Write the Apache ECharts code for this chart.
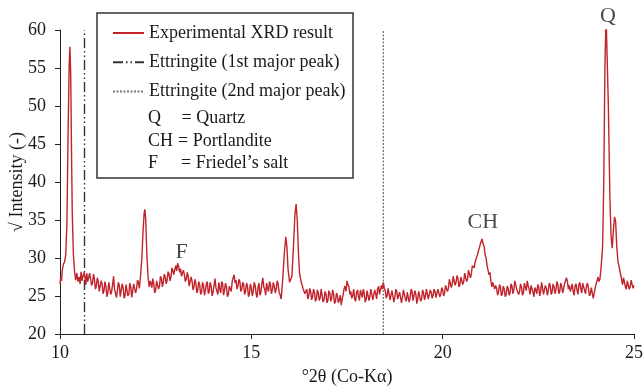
<!DOCTYPE html>
<html><head><meta charset="utf-8">
<script src="https://cdn.jsdelivr.net/npm/echarts@6/dist/echarts.min.js"></script>
<style>html,body{margin:0;padding:0;background:#fff}#c{width:643px;height:388px}</style>
</head><body><div id="c"></div>
<script>
// ---- data ----
const xTicks = [10, 15, 20, 25];
const yTicks = [20, 25, 30, 35, 40, 45, 50, 55, 60];
const ettringite1stPeak = 10.64;
const ettringite2ndPeak = 18.45;
const xrdPattern = [
[10.00,26.6],[10.02,27.5],[10.04,27.0],[10.06,28.4],[10.09,29.2],[10.12,29.5],[10.15,30.4],[10.18,34.5],[10.21,46.0],[10.24,55.5],[10.26,57.8],[10.28,54.0],[10.30,44.5],[10.32,36.0],[10.35,30.5],[10.38,28.3],[10.41,27.1],[10.44,28.0],[10.47,26.9],
[10.500,27.5],[10.525,26.6],[10.550,28.2],[10.575,27.0],[10.600,26.8],[10.625,28.1],[10.650,27.6],[10.675,26.5],[10.700,28.0],[10.725,26.9],[10.750,27.1],[10.775,28.0],[10.800,27.8],[10.825,26.4],[10.850,26.7],[10.875,27.9],[10.900,27.2],[10.925,25.9],[10.950,26.3],[10.975,27.4],
[11.000,26.9],[11.025,25.6],[11.050,25.8],[11.075,27.0],[11.100,26.6],[11.125,25.3],[11.150,25.7],[11.175,26.9],[11.200,26.3],[11.225,24.9],[11.250,25.4],[11.275,26.8],[11.300,26.7],[11.325,25.2],[11.350,25.6],[11.375,26.5],[11.400,27.6],[11.425,25.9],[11.450,26.0],[11.475,24.8],
[11.500,25.7],[11.525,26.8],[11.550,26.4],[11.575,24.9],[11.600,25.1],[11.625,26.6],[11.650,26.1],[11.675,24.7],[11.700,25.0],[11.725,26.5],[11.750,26.3],[11.775,25.0],[11.800,25.3],[11.825,26.7],[11.850,26.2],[11.875,24.8],[11.900,25.0],[11.925,26.6],[11.950,26.4],[11.975,25.4],
[12.000,25.9],[12.025,27.1],[12.050,26.8],[12.075,26.0],[12.100,27.4],
[12.14,30.0],[12.17,33.5],[12.20,36.0],[12.22,36.4],[12.24,35.0],[12.27,30.5],[12.30,27.6],[12.33,26.2],[12.36,27.0],
[12.400,26.1],[12.425,27.3],[12.450,26.6],[12.475,25.4],[12.500,25.8],[12.525,27.0],[12.550,27.1],[12.575,25.9],[12.600,26.3],[12.625,27.6],[12.650,27.3],[12.675,26.2],[12.700,26.8],[12.725,27.9],[12.750,27.5],[12.775,26.6],[12.800,27.1],[12.825,28.2],[12.850,27.9],[12.875,27.0],
[12.900,27.5],[12.925,28.7],[12.950,28.3],[12.975,27.8],[13.000,28.5],[13.025,29.0],[13.050,28.3],[13.075,29.3],[13.100,28.9],[13.125,28.1],[13.150,28.6],[13.175,27.6],[13.200,28.0],[13.225,28.4],[13.250,27.8],[13.275,26.9],[13.300,27.2],[13.325,28.1],[13.350,27.6],[13.375,26.3],
[13.400,26.5],[13.425,27.5],[13.450,27.0],[13.475,25.8],[13.500,26.2],[13.525,27.2],[13.550,26.7],[13.575,25.4],[13.600,25.8],[13.625,26.9],[13.650,26.5],[13.675,25.2],[13.700,25.5],[13.725,26.8],[13.750,26.4],[13.775,25.1],[13.800,25.7],[13.825,26.6],[13.850,26.9],[13.875,25.3],
[13.900,25.6],[13.925,26.8],[13.950,26.3],[13.975,25.0],[14.000,25.5],[14.025,26.4],[14.050,27.3],[14.075,26.1],[14.100,26.0],[14.125,25.2],[14.150,26.8],[14.175,25.9],[14.200,25.4],[14.225,26.9],[14.250,26.6],[14.275,25.1],[14.300,25.8],[14.325,26.7],[14.350,26.2],[14.375,24.9],
[14.400,25.2],[14.425,26.3],[14.450,26.5],[14.475,25.6],[14.500,26.9],[14.525,27.4],[14.550,27.8],[14.575,26.7],[14.600,27.1],[14.625,25.9],[14.650,26.3],[14.675,27.2],[14.700,26.9],[14.725,25.6],[14.750,25.9],[14.775,26.8],[14.800,26.5],[14.825,25.2],[14.850,25.6],[14.875,26.7],
[14.900,26.3],[14.925,24.9],[14.950,25.3],[14.975,26.6],[15.000,26.1],[15.025,25.0],[15.050,25.6],[15.075,26.8],[15.100,26.4],[15.125,25.3],[15.150,24.8],[15.175,26.2],[15.200,26.7],[15.225,25.1],[15.250,25.5],[15.275,26.6],[15.300,27.4],[15.325,26.2],[15.350,25.9],[15.375,25.1],
[15.400,26.7],[15.425,26.0],[15.450,25.6],[15.475,26.9],[15.500,26.5],[15.525,25.3],[15.550,25.8],[15.575,26.8],[15.600,26.3],[15.625,25.4],[15.650,25.9],[15.675,27.0],[15.700,26.6],[15.725,25.5],[15.750,25.2],
[15.78,24.6],[15.82,27.2],[15.86,30.5],[15.90,32.8],[15.93,31.5],[15.96,28.5],[16.00,26.8],[16.03,26.6],[16.06,27.6],[16.10,31.5],[16.14,35.8],[16.17,37.1],[16.20,35.0],[16.23,30.8],[16.26,28.0],[16.30,26.9],[16.35,26.0],[16.40,25.3],
[16.450,25.9],[16.475,24.6],[16.500,25.0],[16.525,26.0],[16.550,25.6],[16.575,24.5],[16.600,24.9],[16.625,25.9],[16.650,25.5],[16.675,24.3],[16.700,24.6],[16.725,25.8],[16.750,25.4],[16.775,24.4],[16.800,24.8],[16.825,25.9],[16.850,25.7],[16.875,24.2],[16.900,24.5],[16.925,25.6],
[16.950,25.3],[16.975,24.1],[17.000,24.4],[17.025,25.7],[17.050,25.4],[17.075,24.3],[17.100,24.7],[17.125,25.8],[17.150,25.2],[17.175,24.0],[17.200,24.3],[17.225,25.4],[17.250,25.0],[17.275,24.1],[17.300,24.5],[17.325,25.1],[17.350,23.8],[17.375,24.6],[17.400,25.2],[17.425,26.0],
[17.450,26.3],[17.475,25.6],[17.500,27.0],[17.525,26.5],[17.550,26.2],[17.575,25.2],[17.600,25.6],[17.625,24.7],[17.650,25.1],[17.675,25.9],[17.700,24.6],[17.725,24.3],[17.750,25.5],[17.775,25.8],[17.800,24.9],[17.825,24.4],[17.850,25.8],[17.875,25.3],[17.900,24.8],[17.925,25.9],
[17.950,25.4],[17.975,24.2],[18.000,24.5],[18.025,25.7],[18.050,25.6],[18.075,24.4],[18.100,25.0],[18.125,25.9],[18.150,25.7],[18.175,24.5],[18.200,24.7],[18.225,25.8],[18.250,25.3],[18.275,24.6],[18.300,25.9],[18.325,26.3],[18.350,25.2],[18.375,25.8],[18.400,26.4],[18.425,25.9],
[18.450,26.8],[18.475,26.0],[18.500,25.7],[18.525,24.7],[18.550,25.1],[18.575,26.0],[18.600,25.9],[18.625,24.5],[18.650,24.6],[18.675,25.7],[18.700,25.5],[18.725,24.2],[18.750,24.8],[18.775,25.9],[18.800,25.6],[18.825,24.6],[18.850,24.4],[18.875,25.5],[18.900,25.3],[18.925,24.1],
[18.950,24.9],[18.975,25.8],[19.000,25.7],[19.025,24.6],[19.050,24.3],[19.075,25.5],[19.100,25.4],[19.125,24.2],[19.150,24.8],[19.175,25.9],[19.200,25.6],[19.225,24.4],[19.250,24.5],[19.275,25.7],[19.300,25.2],[19.325,24.0],[19.350,24.7],[19.375,25.6],[19.400,25.5],[19.425,24.3],
[19.450,24.6],[19.475,25.8],[19.500,25.4],[19.525,24.5],[19.550,25.0],[19.575,25.9],[19.600,25.7],[19.625,24.6],[19.650,24.8],[19.675,25.8],[19.700,25.5],[19.725,24.7],[19.750,25.1],[19.775,25.9],[19.800,25.6],[19.825,24.8],[19.850,24.9],[19.875,25.9],[19.900,25.7],[19.925,24.9],
[19.950,25.2],[19.975,26.1],[20.000,25.8],[20.025,25.0],[20.050,25.4],[20.075,26.4],[20.100,26.3],[20.125,25.6],[20.150,26.0],[20.175,27.2],[20.200,27.0],[20.225,26.1],[20.250,26.6],[20.275,27.6],[20.300,27.5],[20.325,26.4],[20.350,26.8],[20.375,27.7],[20.400,27.3],[20.425,26.2],
[20.450,26.5],[20.475,27.5],[20.500,27.6],[20.525,26.5],[20.550,26.9],[20.575,28.0],[20.600,27.8],[20.625,26.9],[20.650,27.2],[20.675,28.4],[20.700,28.3],[20.725,27.4],[20.750,27.9],[20.775,29.0],[20.800,28.8],[20.825,28.7],[20.850,29.5],[20.875,29.3],[20.900,30.3],[20.925,30.1],
[20.950,31.2],[20.975,31.0],[21.000,32.1],[21.030,32.5],[21.060,31.8],[21.085,31.5],[21.110,30.4],[21.135,30.0],[21.160,29.0],[21.185,28.9],[21.210,27.8],[21.235,28.1],[21.260,27.0],[21.285,26.2],[21.310,26.8],[21.335,26.9],[21.360,25.9],[21.385,26.4],[21.410,26.0],
[21.435,25.1],[21.460,25.5],[21.485,26.5],[21.510,26.2],[21.535,25.0],[21.560,25.3],[21.585,26.3],[21.610,25.9],[21.635,24.9],[21.660,25.2],[21.685,26.3],[21.710,26.0],[21.735,25.1],[21.760,25.4],[21.785,26.6],[21.810,26.3],[21.835,25.3],[21.860,25.8],[21.885,27.0],[21.910,27.2],
[21.935,25.9],[21.960,26.1],[21.985,25.2],[22.010,25.6],[22.035,26.6],[22.060,26.2],[22.085,25.1],[22.110,25.4],[22.135,26.7],[22.160,26.5],[22.185,25.7],[22.210,27.0],[22.235,26.3],[22.260,25.9],[22.285,25.2],[22.310,26.4],[22.335,26.0],[22.360,25.5],[22.385,24.9],[22.410,26.1],
[22.435,25.8],[22.460,25.3],[22.485,26.5],[22.510,26.2],[22.535,25.0],[22.560,25.6],[22.585,26.8],[22.610,26.6],[22.635,25.2],[22.660,25.4],[22.685,26.4],[22.710,26.0],[22.735,25.1],[22.760,25.7],[22.785,26.7],[22.810,26.4],[22.835,25.2],[22.860,25.5],[22.885,26.6],[22.910,26.2],
[22.935,25.3],[22.960,25.8],[22.985,26.9],[23.010,26.5],[23.035,25.3],[23.060,25.6],[23.085,26.7],[23.110,26.3],[23.135,25.4],[23.160,25.9],[23.185,26.6],[23.210,27.0],[23.235,27.4],[23.260,26.9],[23.285,25.9],[23.310,26.4],[23.335,25.6],[23.360,26.0],[23.385,26.6],[23.410,25.6],
[23.435,25.1],[23.460,26.3],[23.485,26.6],[23.510,25.8],[23.535,25.2],[23.560,26.5],[23.585,26.8],[23.610,25.9],[23.635,25.4],[23.660,26.7],[23.685,26.9],[23.710,25.7],[23.735,25.3],[23.760,26.4],[23.785,26.7],[23.810,26.0],[23.835,25.0],[23.860,25.3],[23.885,26.1],[23.910,25.9],
[23.935,24.7],[23.960,24.9],[23.985,26.0],[24.010,26.6],[24.035,27.0],[24.060,27.5],[24.085,26.9],[24.110,27.2],
[24.14,28.8],[24.18,31.5],[24.21,40.0],[24.24,55.0],[24.27,62.0],[24.30,62.0],[24.33,50.0],[24.37,38.0],[24.40,33.0],[24.43,31.3],[24.46,33.5],[24.49,35.4],[24.52,34.8],[24.55,31.5],[24.58,29.6],[24.62,28.6],[24.66,27.6],
[24.700,26.5],[24.725,27.4],[24.750,27.3],[24.775,26.2],[24.800,25.9],[24.825,27.0],[24.850,26.8],[24.875,25.9],[24.900,26.2],[24.925,27.1],[24.950,26.9],[24.975,26.0],[25.000,26.4]
];
const peakLabels = [[13.18, 30.8, 'F'], [21.05, 34.65, 'CH'], [24.32, 61.85, 'Q']];
const seriesNames = ['Experimental XRD result', 'Ettringite (1st major peak)', 'Ettringite (2nd major peak)'];
const phaseKey = [['Q', '= Quartz'], ['CH', '= Portlandite'], ['F', '= Friedel\u2019s salt']];

// ---- chart ----
const serif = '"Liberation Serif","Times New Roman",serif';
const ink = '#1a1a1a';
const chart = echarts.init(document.getElementById('c'), null, {renderer: 'canvas'});
const keyRowsY = [118.5, 141, 163];
const keyEqX = [181.5, 178, 181];
const graphics = [{
  type: 'rect', z: 3, shape: {x: 97, y: 13, width: 256, height: 165},
  style: {fill: '#fff', stroke: '#333', lineWidth: 1.5}
}];
phaseKey.forEach((row, i) => {
  graphics.push({type: 'text', z: 5, x: 148, y: keyRowsY[i],
    style: {text: row[0], font: '18px ' + serif, fill: ink, verticalAlign: 'middle'}});
  graphics.push({type: 'text', z: 5, x: keyEqX[i], y: keyRowsY[i],
    style: {text: row[1], font: '18px ' + serif, fill: ink, verticalAlign: 'middle'}});
});

const axisText = {fontFamily: serif, fontSize: 18, color: ink};
chart.setOption({
  animation: false,
  grid: {left: 60, right: 9, top: 30, bottom: 54, containLabel: false, outerBoundsMode: 'none'},
  xAxis: {
    type: 'value', min: xTicks[0], max: xTicks[xTicks.length - 1], interval: 5,
    name: '°2θ (Co-Kα)', nameLocation: 'middle', nameGap: 34, nameMoveOverlap: false, nameTextStyle: axisText,
    axisLine: {show: true, lineStyle: {color: '#222', width: 1}},
    axisTick: {show: true, length: 5, lineStyle: {color: '#222'}},
    axisLabel: Object.assign({margin: 10}, axisText),
    splitLine: {show: false}
  },
  yAxis: {
    type: 'value', min: yTicks[0], max: yTicks[yTicks.length - 1], interval: 5,
    name: '√ Intensity (-)', nameLocation: 'middle', nameGap: 34, nameMoveOverlap: false, nameTextStyle: axisText,
    axisLine: {show: true, lineStyle: {color: '#222', width: 1}},
    axisTick: {show: true, length: 5, lineStyle: {color: '#222'}},
    axisLabel: Object.assign({margin: 14}, axisText),
    splitLine: {show: false}
  },
  legend: {
    orient: 'vertical', left: 112, top: 24, padding: 0, z: 6,
    itemWidth: 31, itemHeight: 14, itemGap: 11.2, selectedMode: false,
    itemStyle: {opacity: 0},
    textStyle: {fontFamily: serif, fontSize: 18, color: ink, lineHeight: 18},
    data: seriesNames
  },
  graphic: graphics,
  series: [
    {
      name: seriesNames[1], type: 'line', symbol: 'none', z: 1,
      data: [[ettringite1stPeak, yTicks[0]], [ettringite1stPeak, yTicks[yTicks.length - 1]]],
      itemStyle: {color: '#333'},
      lineStyle: {color: '#333', width: 1.4, type: [10, 3, 1.5, 3, 1.5, 3]}
    },
    {
      name: seriesNames[2], type: 'line', symbol: 'none', z: 1,
      data: [[ettringite2ndPeak, yTicks[0]], [ettringite2ndPeak, yTicks[yTicks.length - 1]]],
      itemStyle: {color: '#777'},
      lineStyle: {color: '#777', width: 1.4, type: [2, 1.5]}
    },
    {
      name: seriesNames[0], type: 'line', symbol: 'none', z: 2, clip: true,
      data: xrdPattern,
      itemStyle: {color: '#C1232B'},
      lineStyle: {color: '#C1232B', width: 1.4}
    },
    {
      type: 'scatter', symbolSize: 0, clip: false, z: 4,
      data: peakLabels,
      label: {show: true, position: 'inside', formatter: p => p.data[2],
        fontFamily: serif, fontSize: 22, color: ink}
    }
  ]
});
</script></body></html>
